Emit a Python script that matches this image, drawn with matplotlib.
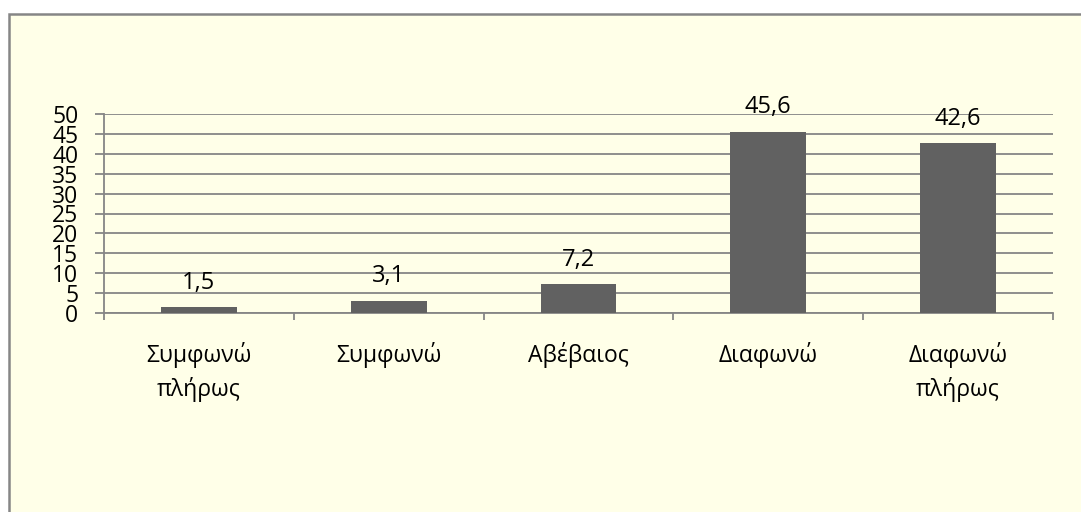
import matplotlib.pyplot as plt
from matplotlib.patches import Rectangle

categories = ['Συμφωνώ\nπλήρως', 'Συμφωνώ', 'Αβέβαιος', 'Διαφωνώ', 'Διαφωνώ\nπλήρως']
values = [1.5, 3.1, 7.2, 45.6, 42.6]
value_labels = ['1,5', '3,1', '7,2', '45,6', '42,6']
yticks = list(range(0, 55, 5))

plt.rcParams['font.family'] = ['Open Sans', 'DejaVu Sans']
bg = '#FFFFE8'
grid_col = '#868686'
bar_col = '#616161'

W, H = 1081, 512
fig = plt.figure(figsize=(W / 100, H / 100), dpi=100, facecolor='white')

# chart area with border (only top and left edges are inside the image)
fig.patches.append(Rectangle((8.5 / W, -0.1), 1.2, 1.1 - 13.5 / H, transform=fig.transFigure,
                             facecolor=bg, edgecolor=grid_col, linewidth=1.8, zorder=-1))

ax = fig.add_axes([104 / W, (H - 313) / H, (1053 - 104) / W, (313 - 114) / H])
ax.set_facecolor(bg)

x = range(len(categories))
ax.bar(x, values, width=0.4, color=bar_col, zorder=3)
for xi, v, lab in zip(x, values, value_labels):
    ax.annotate(lab, (xi, v), xytext=(0, 9), textcoords='offset points',
                ha='center', va='bottom', fontsize=17, color='black')

ax.set_xlim(-0.5, len(categories) - 0.5)
ax.set_ylim(0, 50)
ax.set_yticks(yticks)
ax.set_yticklabels([str(t) for t in yticks], fontsize=16.5)
ax.yaxis.grid(True, color=grid_col, linewidth=1.3, zorder=0)
ax.set_axisbelow(True)

ax.set_xticks(list(x))
ax.set_xticklabels(categories, fontsize=16.5, linespacing=1.45)
ax.set_xticks([i - 0.5 for i in range(len(categories) + 1)], minor=True)
ax.tick_params(axis='x', which='major', length=0, pad=21)
ax.tick_params(axis='x', which='minor', length=5, width=1.3, color=grid_col)
ax.tick_params(axis='y', length=6.5, width=1.3, color=grid_col, pad=12)

for s in ['top', 'right']:
    ax.spines[s].set_visible(False)
for s in ['left', 'bottom']:
    ax.spines[s].set_color(grid_col)
    ax.spines[s].set_linewidth(1.3)

fig.savefig('out.png', dpi=100, facecolor='white')
